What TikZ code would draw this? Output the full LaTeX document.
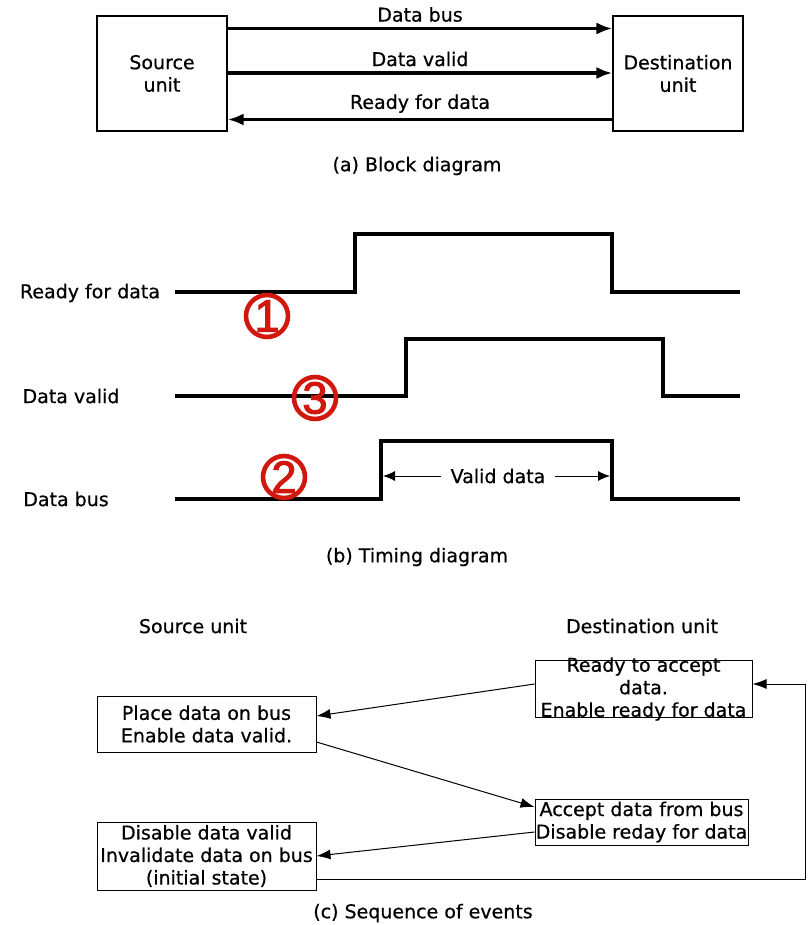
\documentclass[tikz,border=0pt]{standalone}
\usepackage{fontspec}
\setmainfont{DejaVu Sans}[FakeBold=0.6]
\newfontfamily\digitfont{Liberation Sans}[FakeBold=2.5]
\usetikzlibrary{arrows.meta}
\definecolor{mark}{RGB}{208,24,14}
\tikzset{
  txt/.style={font=\fontsize{19}{22.5}\selectfont, inner sep=0pt},
  unitbox/.style={draw, line width=1.1pt, txt, align=center, minimum width=130pt, minimum height=115pt},
  evbox/.style={draw, line width=1pt, txt, align=center},
  thickarrow/.style={line width=3.3pt, -{Latex[length=16pt,width=12pt]}},
  thinarrow/.style={line width=1pt, -{Latex[length=14pt,width=10pt]}},
  wave/.style={line width=3.3pt, line join=miter},
  circnum/.style={circle, draw=mark, line width=4.6pt, minimum size=42pt, inner sep=0pt, text=mark, font=\digitfont\fontsize{45}{45}\selectfont}
}
\begin{document}
\begin{tikzpicture}[x=1pt, y=-1pt]
\useasboundingbox (0,0) rectangle (808,925);

% (a) Block diagram
\node[unitbox] (src) at (162,73.5) {Source\\unit};
\node[unitbox] (dst) at (678,73.5) {Destination\\unit};
\draw[thickarrow] ([yshift=45pt]src.east) -- ([yshift=45pt]dst.west)
  node[midway, above=5pt, txt] (lbus) {Data bus};
\draw[thickarrow] ([yshift=0.5pt]src.east) -- ([yshift=0.5pt]dst.west)
  node[midway, above=5pt, txt] (lvalid) {Data valid};
\draw[thickarrow] ([yshift=-46pt]dst.west) -- ([yshift=-46pt]src.east)
  node[midway, above=5pt, txt] (lready) {Ready for data};
\node[txt] (capa) at (417,166) {(a) Block diagram};

% (b) Timing diagram
\node[txt] (tready) at (90,293) {Ready for data};
\node[txt] (tvalid) at (71,396) {Data valid};
\node[txt] (tbus) at (66,499) {Data bus};

\coordinate (r0) at (175,292);
\coordinate (v0) at (175,396);
\coordinate (b0) at (175,499);
\draw[wave] (r0) -- (355,292) -- (355,234) -- (612,234) -- (612,292) -- (740,292);
\draw[wave] (v0) -- (406,396) -- (406,339) -- (663,339) -- (663,396) -- (740,396);
\draw[wave] (b0) -- (381,499) -- (381,441) -- (612,441) -- (612,499) -- (740,499);

\coordinate (vdl) at (383,476);
\coordinate (vdr) at (610,476);
\node[txt, inner xsep=9pt] (vd) at (498,476) {Valid data};
\draw[line width=0.9pt, -{Latex[length=12pt,width=10pt]}] (vd.west) -- (vdl);
\draw[line width=0.9pt, -{Latex[length=12pt,width=10pt]}] (vd.east) -- (vdr);

\node[circnum] (c1) at (267,316) {1};
\node[circnum] (c3) at (315,398) {3};
\node[circnum] (c2) at (284,477) {2};

\node[txt] (capb) at (417,557) {(b) Timing diagram};

% (c) Sequence of events
\node[txt] (hsrc) at (193,626) {Source unit};
\node[txt] (hdst) at (642,626) {Destination unit};

\node[evbox, minimum width=219pt, minimum height=56pt] (P) at (206.5,724) {Place data on bus\\Enable data valid.};
\node[evbox, minimum width=219pt, minimum height=68pt] (D) at (206.5,856) {Disable data valid\\Invalidate data on bus\\(initial state)};
\node[evbox, minimum width=217pt, inner ysep=-3pt] (R) at (643.5,689) {Ready to accept\\data.\\Enable ready for data};
\node[evbox, minimum width=213pt, minimum height=46pt] (A) at (641.5,822) {Accept data from bus\\Disable reday for data};

\coordinate (loop) at (805,684);
\draw[thinarrow] ([yshift=5pt]R.west) -- ([yshift=8pt]P.east);
\draw[thinarrow] ([yshift=-18pt]P.east) -- ([yshift=15pt]A.west);
\draw[thinarrow] ([yshift=-10pt]A.west) -- (D.east);
\draw[thinarrow] ([yshift=-23pt]D.east) -| (loop) -- ([yshift=5pt]R.east);

\node[txt] (capc) at (423,913) {(c) Sequence of events};
\end{tikzpicture}
\end{document}
